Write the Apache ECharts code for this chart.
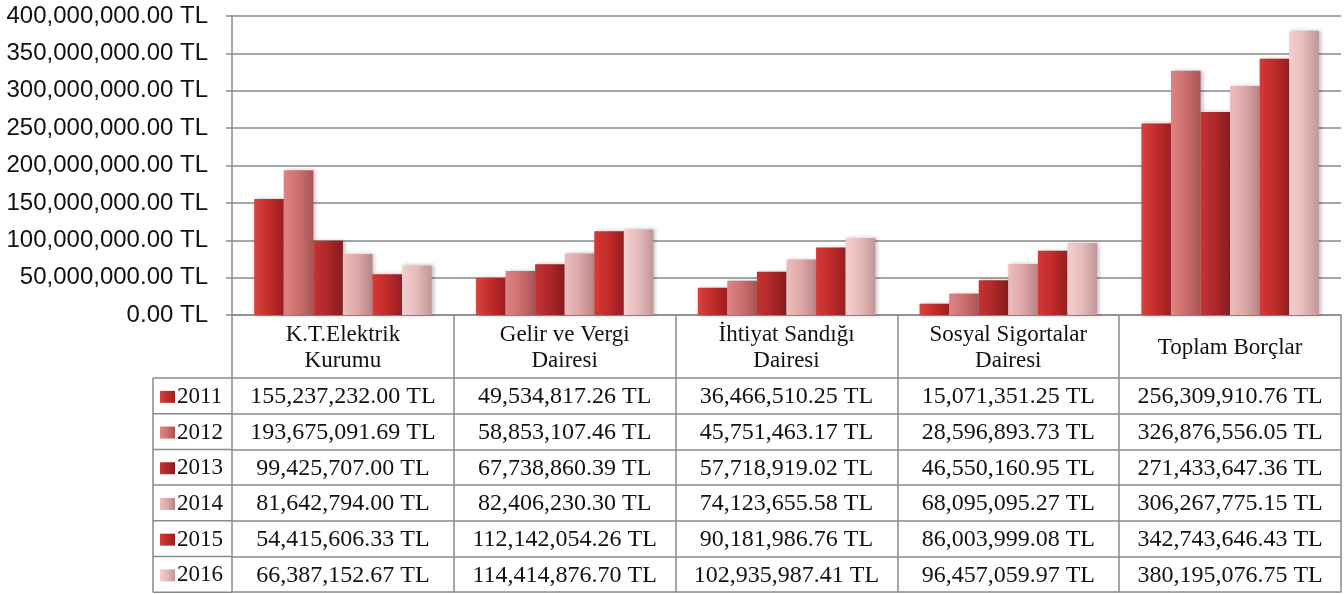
<!DOCTYPE html>
<html>
<head>
<meta charset="utf-8">
<script src="https://cdn.jsdelivr.net/npm/echarts@6/dist/echarts.min.js"></script>
<style>
  html, body { margin: 0; padding: 0; background: #fff; }
  #main { width: 1344px; height: 594px; }
</style>
</head>
<body>
<div id="main"></div>
<script>
var categories = ['K.T.Elektrik\nKurumu', 'Gelir ve Vergi\nDairesi', 'İhtiyat Sandığı\nDairesi', 'Sosyal Sigortalar\nDairesi', 'Toplam Borçlar'];
var years = ['2011', '2012', '2013', '2014', '2015', '2016'];

var v2011 = [155237232.00, 49534817.26, 36466510.25, 15071351.25, 256309910.76];
var v2012 = [193675091.69, 58853107.46, 45751463.17, 28596893.73, 326876556.05];
var v2013 = [99425707.00, 67738860.39, 57718919.02, 46550160.95, 271433647.36];
var v2014 = [81642794.00, 82406230.30, 74123655.58, 68095095.27, 306267775.15];
var v2015 = [54415606.33, 112142054.26, 90181986.76, 86003999.08, 342743646.43];
var v2016 = [66387152.67, 114414876.70, 102935987.41, 96457059.97, 380195076.75];
var values = [v2011, v2012, v2013, v2014, v2015, v2016];

var colors = [
  ['#d8443f', '#c22b2b', '#9e1f21'],
  ['#dc8584', '#cd6e6e', '#a85556'],
  ['#c53433', '#ad2728', '#861c1e'],
  ['#ecbdbd', '#dfa7a7', '#b88485'],
  ['#d43a37', '#bf2a2a', '#961f21'],
  ['#f2d0d0', '#e6baba', '#c09596']
];

function fmtTL(v) {
  var s = v.toFixed(2);
  var parts = s.split('.');
  parts[0] = parts[0].replace(/\B(?=(\d{3})+(?!\d))/g, ',');
  return parts[0] + '.' + parts[1] + ' TL';
}

var gridTop = 16, gridBottomPx = 315, chartH = 594;
var headerH = 63, rowH = 35.7;
var lineColor = '#8a8a8a';
var serif = '"Liberation Serif", "Times New Roman", serif';
var tableFont = 24;

var series = years.map(function (y, i) {
  return {
    name: y,
    type: 'bar',
    barGap: '0%',
    barCategoryGap: '20%',
    data: values[i],
    itemStyle: {
      color: new echarts.graphic.LinearGradient(0, 0, 1, 0, [
        { offset: 0, color: colors[i][0] },
        { offset: 0.5, color: colors[i][1] },
        { offset: 1, color: colors[i][2] }
      ]),
      shadowColor: 'rgba(0,0,0,0.25)',
      shadowBlur: 4,
      shadowOffsetX: 2
    }
  };
});

// header axis (category names) + one axis per table row
var xAxes = [{
  type: 'category',
  data: categories,
  position: 'bottom',
  axisLine: { show: true, lineStyle: { color: lineColor, width: 1.5 } },
  axisTick: { show: true, alignWithLabel: false, length: headerH, lineStyle: { color: lineColor, width: 1.5 } },
  axisLabel: {
    margin: 7,
    fontFamily: serif,
    fontSize: tableFont - 1,
    color: '#111',
    lineHeight: 26,
    interval: 0,
    formatter: function (v) {
      return v.indexOf('\n') < 0 ? '{c|' + v + '}' : v;
    },
    rich: { c: { fontFamily: serif, fontSize: tableFont - 1, color: '#111', lineHeight: 52 } }
  }
}];

years.forEach(function (y, i) {
  xAxes.push({
    type: 'category',
    data: categories,
    position: 'bottom',
    offset: headerH + rowH * i,
    axisLine: { show: true, lineStyle: { color: lineColor, width: 1.5 } },
    axisTick: { show: true, alignWithLabel: false, length: rowH, lineStyle: { color: lineColor, width: 1.5 } },
    axisLabel: {
      margin: 1,
      interval: 0,
      fontFamily: serif,
      fontSize: tableFont,
      color: '#111',
      lineHeight: rowH,
      formatter: function (v, idx) { return fmtTL(values[i][idx]); }
    },
    splitLine: { show: false }
  });
});

// closing line under the table
xAxes.push({
  type: 'category',
  data: categories,
  position: 'bottom',
  offset: headerH + rowH * 6,
  axisLine: { show: true, lineStyle: { color: lineColor, width: 1.5 } },
  axisTick: { show: false },
  axisLabel: { show: false }
});

// left column (legend cells) borders
var tableTop = gridBottomPx + headerH;
var leftColX = 153, axisX = 232;
var borders = [];
for (var r = 0; r <= 6; r++) {
  borders.push({
    type: 'line',
    shape: { x1: leftColX, y1: tableTop + rowH * r, x2: axisX, y2: tableTop + rowH * r },
    style: { stroke: lineColor, lineWidth: 1.5 }
  });
}
borders.push({
  type: 'line',
  shape: { x1: leftColX, y1: tableTop, x2: leftColX, y2: tableTop + rowH * 6 },
  style: { stroke: lineColor, lineWidth: 1.5 }
});

var chart = echarts.init(document.getElementById('main'));
chart.setOption({
  animation: false,
  backgroundColor: '#fff',
  color: colors.map(function (c) { return c[1]; }),
  grid: { left: axisX, right: 3, top: gridTop, bottom: chartH - gridBottomPx, containLabel: false },
  legend: {
    orient: 'vertical',
    left: 160,
    top: tableTop + (rowH - 24) / 2 + 1,
    height: 260,
    padding: 0,
    itemWidth: 15,
    itemHeight: 12,
    itemGap: rowH - 24,
    icon: 'rect',
    data: years,
    textStyle: { fontFamily: serif, fontSize: 23, color: '#111', lineHeight: 24, padding: [0, 0, 0, -3] }
  },
  xAxis: xAxes,
  yAxis: {
    type: 'value',
    min: 0,
    max: 400000000,
    interval: 50000000,
    axisLine: { show: true, lineStyle: { color: lineColor, width: 1.5 } },
    axisTick: { show: true, length: 6, lineStyle: { color: lineColor, width: 1.5 } },
    axisLabel: {
      margin: 24,
      fontFamily: '"Liberation Sans", Arial, sans-serif',
      fontSize: 24,
      color: '#111',
      formatter: function (v) { return fmtTL(v); }
    },
    splitLine: { show: true, lineStyle: { color: lineColor, width: 1.5 } }
  },
  graphic: borders,
  series: series
});
</script>
</body>
</html>
